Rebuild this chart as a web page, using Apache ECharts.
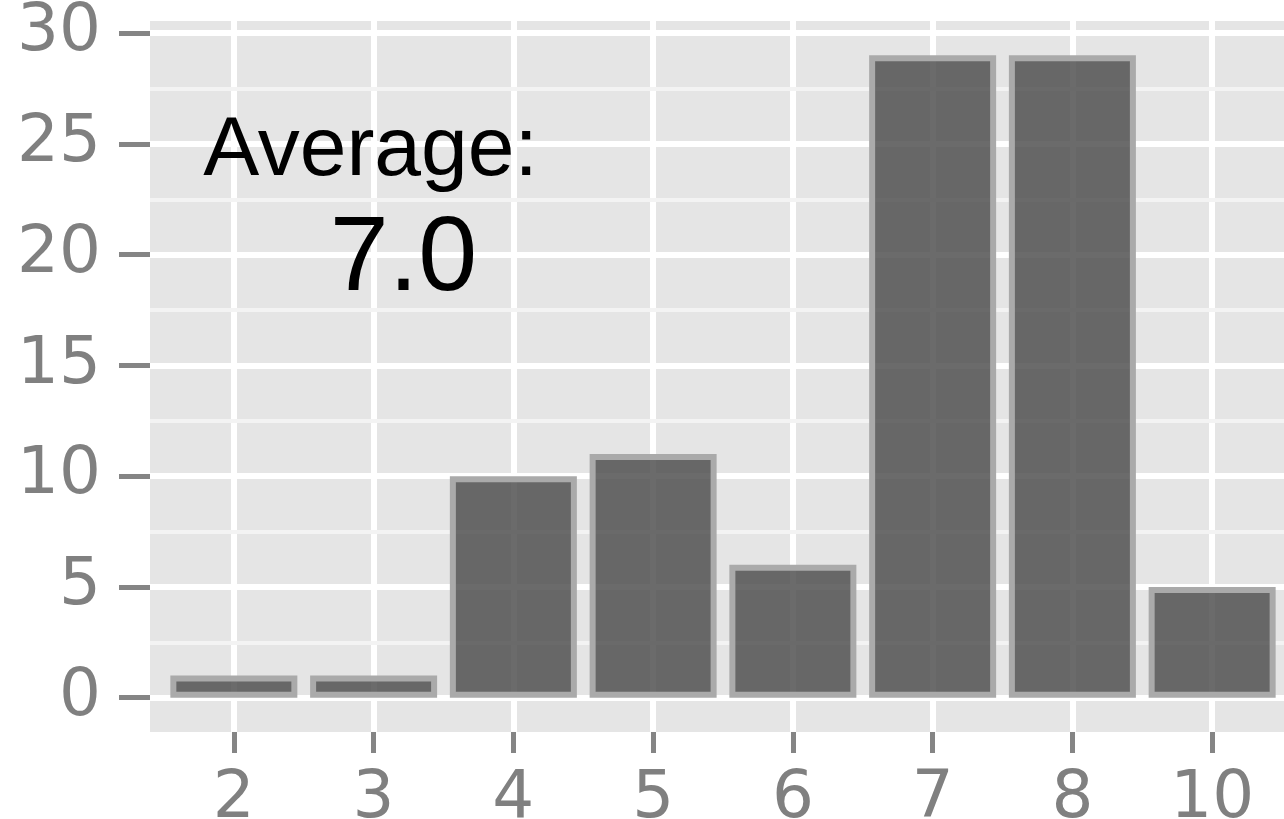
<!DOCTYPE html>
<html>
<head>
<meta charset="utf-8">
<script src="https://cdn.jsdelivr.net/npm/echarts@6/dist/echarts.min.js"></script>
<style>
html,body{margin:0;padding:0;background:#fff;}
#chart{width:1284px;height:819px;}
</style>
</head>
<body>
<div id="chart"></div>
<script>
const categories = ['2', '3', '4', '5', '6', '7', '8', '10'];
const counts = [1, 1, 10, 11, 6, 29, 29, 5];
const yTicks = [0, 5, 10, 15, 20, 25, 30];
const yMinor = [2.5, 7.5, 12.5, 17.5, 22.5, 27.5];
const annotationTitle = 'Average:';
const annotationValue = '7.0';

const xIdx = categories.map((c, i) => i);
const chart = echarts.init(document.getElementById('chart'), null, {renderer: 'canvas'});

const tickStyle = {color: '#858585', width: 5};
const labelFont = {fontFamily: 'DejaVu Sans', fontSize: 66, color: '#808080'};

chart.setOption({
  animation: false,
  backgroundColor: '#ffffff',
  grid: {
    left: 150, top: 21, width: 1146, height: 711,
    outerBoundsMode: 'none', containLabel: false,
    show: true, backgroundColor: '#e5e5e5', borderWidth: 0, z: 0
  },
  xAxis: {
    type: 'value', min: -0.6, max: 7.6, z: 0,
    axisLine: {show: false, onZero: false},
    axisTick: {show: true, customValues: xIdx, length: 21, lineStyle: tickStyle},
    axisLabel: Object.assign({customValues: xIdx, margin: 35,
      formatter: v => categories[Math.round(v)]}, labelFont),
    splitLine: {show: true, lineStyle: {color: '#ffffff', width: 6}}
  },
  yAxis: {
    type: 'value', min: -1.55, max: 30.55, z: 0,
    axisLine: {show: false, onZero: false},
    axisTick: {show: true, customValues: yTicks, length: 31, lineStyle: tickStyle},
    axisLabel: Object.assign({customValues: yTicks, margin: 49, padding: [6, 0, 0, 0]}, labelFont),
    splitLine: {show: true, lineStyle: {color: '#ffffff', width: 6}}
  },
  series: [
    {
      type: 'line', data: [], z: 1, silent: true,
      markLine: {
        silent: true, symbol: 'none', label: {show: false}, animation: false, z: 1,
        lineStyle: {color: '#f3f3f3', width: 4, type: 'solid'},
        data: yMinor.map(v => ({yAxis: v}))
      }
    },
    {
      type: 'bar', z: 10,
      data: counts.map((v, i) => [i, v]),
      barWidth: 127,
      itemStyle: {color: 'rgba(81,81,81,0.85)', borderColor: '#aaaaaa', borderWidth: 6}
    }
  ],
  graphic: [
    {type: 'text', x: 370.5, y: 152, z: 20,
     style: {text: annotationTitle, fontFamily: 'Liberation Sans', fontSize: 84, fill: '#000',
             textAlign: 'center', textVerticalAlign: 'middle'}},
    {type: 'text', x: 403.5, y: 261, z: 20,
     style: {text: annotationValue, fontFamily: 'Liberation Sans', fontSize: 106, fill: '#000',
             textAlign: 'center', textVerticalAlign: 'middle'}}
  ]
});
</script>
</body>
</html>
